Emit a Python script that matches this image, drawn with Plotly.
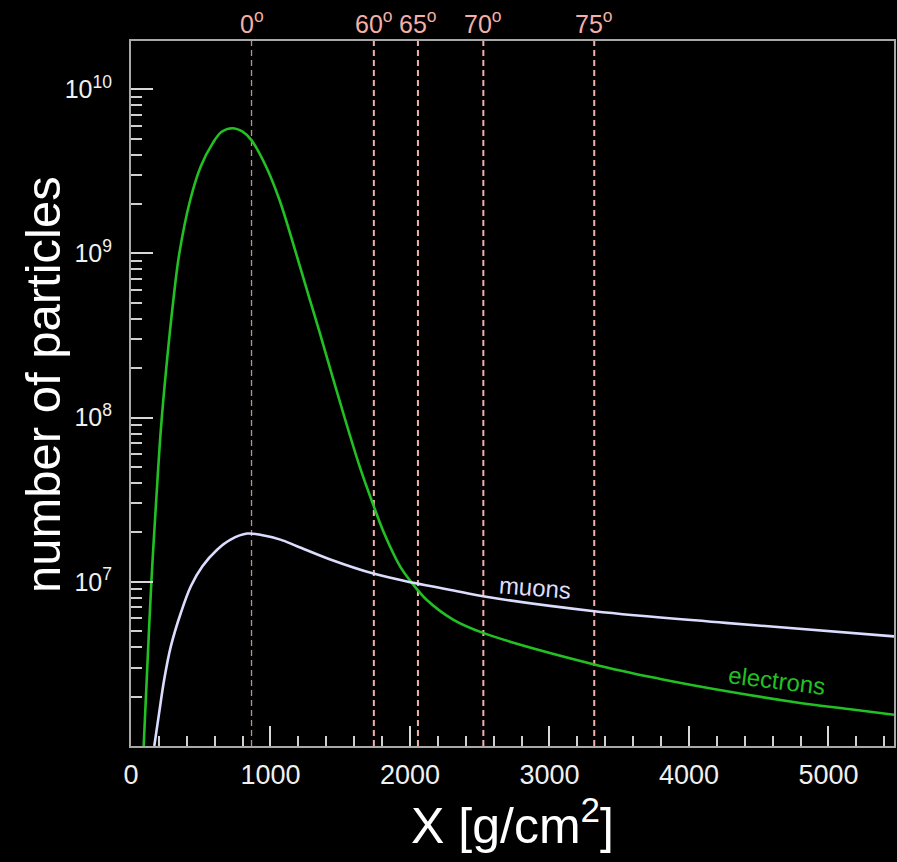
import plotly.graph_objects as go

# ---- data ----
electron_depth = [91, 118, 146, 181, 214, 254, 304, 346, 425, 500, 586, 650, 726, 800, 862,
                  968, 1064, 1186, 1282, 1354, 1493, 1639, 1732, 1814, 1929, 2014, 2119, 2309, 2524,
                  3321, 3786, 4262, 4738, 5143, 5470]
electron_log10 = [6.0, 6.503, 7.0, 7.501, 7.927, 8.312, 8.718, 8.998, 9.327, 9.53, 9.672, 9.741, 9.763, 9.742, 9.692,
                  9.53, 9.327, 8.993, 8.719, 8.515, 8.109, 7.703, 7.48, 7.297, 7.094, 6.993, 6.891, 6.77, 6.689,
                  6.497, 6.41, 6.335, 6.27, 6.225, 6.19]

muon_depth = [167, 202, 238, 286, 357, 429, 512, 619, 714, 833, 952, 1071, 1190, 1429, 1738, 2024,
              2357, 2524, 3321, 4262, 5470]
muon_log10 = [6.0, 6.203, 6.405, 6.608, 6.81, 6.973, 7.095, 7.197, 7.257, 7.294, 7.282, 7.257, 7.217,
              7.136, 7.05, 6.994, 6.94, 6.912, 6.821, 6.75, 6.668]

angle_labels = ["0", "60", "65", "70", "75"]
angle_depths = [864, 1741, 2057, 2526, 3321]

x_tickvals = [0, 1000, 2000, 3000, 4000, 5000]
y_tickvals = [1e7, 1e8, 1e9, 1e10]
y_ticktext = ["10<sup>7</sup>", "10<sup>8</sup>", "10<sup>9</sup>", "10<sup>10</sup>"]

electrons = [10 ** v for v in electron_log10]
muons = [10 ** v for v in muon_log10]

FONT = "Liberation Sans, Arial, Helvetica, sans-serif"
GREEN = "#22c022"
MUON = "#dcdcff"
PINK = "#f4b0a8"
AXIS = "#a8a8a8"

fig = go.Figure()
fig.add_trace(go.Scatter(x=electron_depth, y=electrons, mode="lines", name="electrons",
                         line=dict(color=GREEN, width=2.6, shape="spline", smoothing=1.0),
                         showlegend=False))
fig.add_trace(go.Scatter(x=muon_depth, y=muons, mode="lines", name="muons",
                         line=dict(color=MUON, width=2.6, shape="spline", smoothing=1.0),
                         showlegend=False))

for i, (lab, d) in enumerate(zip(angle_labels, angle_depths)):
    col = "#c09090" if i == 0 else PINK
    w = 1.3 if i == 0 else 2
    fig.add_shape(type="line", xref="x", yref="paper", x0=d, x1=d, y0=0, y1=1,
                  line=dict(color=col, width=w, dash="6px,4px"), layer="below")
    fig.add_annotation(x=d, xref="x", y=1, yref="paper", yanchor="bottom", xanchor="center",
                       text=lab + "<sup>o</sup>", showarrow=False, yshift=1,
                       font=dict(family=FONT, size=25, color=PINK))

fig.add_annotation(x=2893, y=6.968, xref="x", yref="y", text="muons", showarrow=False,
                   textangle=4.5, font=dict(family=FONT, size=24, color=MUON))
fig.add_annotation(x=4629, y=6.396, xref="x", yref="y", text="electrons", showarrow=False,
                   textangle=7, font=dict(family=FONT, size=24, color=GREEN))

# y-axis title
fig.add_annotation(x=0, xref="paper", y=0.512, yref="paper", xanchor="center", yanchor="middle",
                   xshift=-88, text="number of particles", textangle=-90, showarrow=False,
                   font=dict(family=FONT, size=49, color="white"))

fig.update_layout(
    width=897, height=862,
    paper_bgcolor="black", plot_bgcolor="black",
    margin=dict(l=131, r=1, t=41, b=116),
    font=dict(family=FONT, color="white"),
    showlegend=False,
)
fig.update_xaxes(
    range=[0, 5470], showgrid=False, zeroline=False,
    showline=True, linecolor=AXIS, linewidth=2, mirror=True,
    tickmode="array", tickvals=x_tickvals,
    ticks="inside", ticklen=20, tickwidth=2, tickcolor="#d8d8d8",
    tickfont=dict(family=FONT, size=27, color="#f0f0f0"),
    ticklabelstandoff=4,
    minor=dict(dtick=200, ticks="inside", ticklen=10, tickwidth=1.5, tickcolor="#d0d0d0", showgrid=False),
    title=dict(text="X [g/cm<sup>2</sup>]", font=dict(family=FONT, size=50, color="white"), standoff=18),
)
minor_y = [m * 10 ** e for e in range(6, 11) for m in range(2, 10)]
fig.update_yaxes(
    type="log", range=[6.0, 10.294], showgrid=False, zeroline=False,
    showline=True, linecolor=AXIS, linewidth=2, mirror=True,
    tickmode="array", tickvals=y_tickvals, ticktext=y_ticktext,
    ticks="inside", ticklen=22, tickwidth=2, tickcolor="#d8d8d8",
    tickfont=dict(family=FONT, size=25, color="#f0f0f0"),
    ticklabelstandoff=12,
    minor=dict(tickmode="array", tickvals=minor_y, ticks="inside", ticklen=11, tickwidth=2,
               tickcolor="#d0d0d0", showgrid=False),
)

fig.write_html("out.html")
